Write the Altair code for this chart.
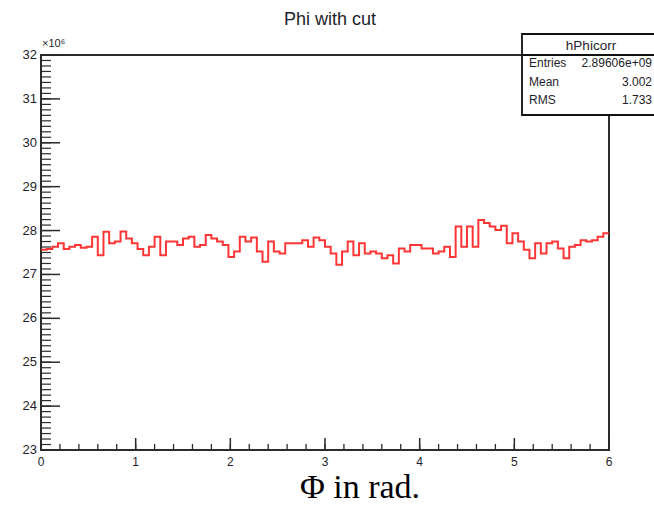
import altair as alt
import numpy as np
import pandas as pd

# Bin contents of hPhicorr in units of 10^6 entries (100 bins, 0 to 6 rad)
counts = [27.56, 27.58, 27.63, 27.71, 27.58, 27.63, 27.67, 27.61, 27.63, 27.86,
          27.44, 27.97, 27.71, 27.75, 27.98, 27.82, 27.71, 27.58, 27.44, 27.63,
          27.86, 27.44, 27.75, 27.75, 27.67, 27.82, 27.86, 27.63, 27.67, 27.90,
          27.82, 27.75, 27.67, 27.40, 27.52, 27.86, 27.75, 27.84, 27.52, 27.29,
          27.75, 27.52, 27.48, 27.71, 27.71, 27.71, 27.78, 27.63, 27.84, 27.78,
          27.63, 27.48, 27.22, 27.52, 27.75, 27.44, 27.71, 27.48, 27.52, 27.48,
          27.37, 27.44, 27.25, 27.59, 27.52, 27.67, 27.67, 27.59, 27.59, 27.48,
          27.52, 27.63, 27.40, 28.09, 27.63, 28.09, 27.63, 28.24, 28.17, 28.09,
          28.01, 28.11, 27.71, 27.94, 27.75, 27.56, 27.37, 27.71, 27.48, 27.71,
          27.75, 27.59, 27.37, 27.63, 27.67, 27.78, 27.75, 27.78, 27.86, 27.94]
x_range = [0, 6]
y_range = [23, 32]
x_labels = [0, 1, 2, 3, 4, 5, 6]
y_labels = [23, 24, 25, 26, 27, 28, 29, 30, 31, 32]
stat_names = ["Entries", "Mean", "RMS"]
stat_values = ["2.89606e+09", "3.002", "1.733"]
hist_name = "hPhicorr"
title_text = "Phi with cut"
x_title = "\u03a6 in rad."

W, H = 568, 395
FRAME = "#2b2b2b"
TXT = "#1e1e2a"
SANS = "Liberation Sans"

edges = np.linspace(x_range[0], x_range[1], len(counts) + 1)
hist = pd.DataFrame({"phi": edges, "n": counts + [counts[-1]]})

xs = alt.Scale(domain=x_range, nice=False, zero=False)
ys = alt.Scale(domain=y_range, nice=False, zero=False)

line = alt.Chart(hist).mark_line(
    interpolate="step-after", color="#ff1f1f", strokeWidth=2, opacity=0.9
).encode(
    x=alt.X("phi:Q", scale=xs, axis=None),
    y=alt.Y("n:Q", scale=ys, axis=None),
)

# ROOT-style ticks drawn inside the frame
y_major = pd.DataFrame({"v": y_labels})
y_minor = pd.DataFrame({"v": [23 + 0.125 * i for i in range(73)]})
x_major = pd.DataFrame({"v": x_labels})
x_minor = pd.DataFrame({"v": [round(0.2 * i, 2) for i in range(31)]})

ytick_major = alt.Chart(y_major).mark_rule(color=FRAME, strokeWidth=1.5).encode(
    y=alt.Y("v:Q", scale=ys, axis=None), x=alt.value(0), x2=alt.value(19))
ytick_minor = alt.Chart(y_minor).mark_rule(color=FRAME, strokeWidth=1.2).encode(
    y=alt.Y("v:Q", scale=ys, axis=None), x=alt.value(0), x2=alt.value(10))
xtick_major = alt.Chart(x_major).mark_rule(color=FRAME, strokeWidth=1.5).encode(
    x=alt.X("v:Q", scale=xs, axis=None), y=alt.value(H), y2=alt.value(H - 12))
xtick_minor = alt.Chart(x_minor).mark_rule(color=FRAME, strokeWidth=1.3).encode(
    x=alt.X("v:Q", scale=xs, axis=None), y=alt.value(H), y2=alt.value(H - 6))

# tick labels
ylab = alt.Chart(y_major).mark_text(
    font=SANS, fontSize=13, color=TXT, align="right", baseline="middle"
).encode(y=alt.Y("v:Q", scale=ys, axis=None), x=alt.value(-4), text="v:Q")
xlab = alt.Chart(x_major).mark_text(
    font=SANS, fontSize=12, color=TXT, align="center", baseline="middle"
).encode(x=alt.X("v:Q", scale=xs, axis=None), y=alt.value(H + 12), text="v:Q")

one = pd.DataFrame({"k": [0]})

title = alt.Chart(one).mark_text(
    text=title_text, font=SANS, fontSize=18, color=TXT, baseline="middle"
).encode(x=alt.value(289), y=alt.value(-35))

exponent = alt.Chart(one).mark_text(
    text="\u00d710\u2076", font=SANS, fontSize=11, color=TXT, align="left",
    baseline="alphabetic"
).encode(x=alt.value(1), y=alt.value(-8))

xlabel = alt.Chart(one).mark_text(
    text=x_title, font="Liberation Serif", fontSize=34, color="#000",
    baseline="alphabetic"
).encode(x=alt.value(319), y=alt.value(443))

# statistics box
box = alt.Chart(one).mark_rect(fill="white", stroke="#111", strokeWidth=1.8).encode(
    x=alt.value(481), x2=alt.value(625), y=alt.value(-21), y2=alt.value(60))
sep = alt.Chart(one).mark_rule(color="#111", strokeWidth=1.8).encode(
    x=alt.value(481), x2=alt.value(625), y=alt.value(0))
header = alt.Chart(one).mark_text(
    text=hist_name, font=SANS, fontSize=13.5, color=TXT, baseline="middle"
).encode(x=alt.value(550), y=alt.value(-9))

stats = pd.DataFrame({"name": stat_names, "val": stat_values, "row": [0, 1, 2]})
row_y = alt.Y("row:Q", scale=alt.Scale(domain=[0, 2], range=[8, 45]), axis=None)
stat_names_l = alt.Chart(stats).mark_text(
    font=SANS, fontSize=12, color=TXT, align="left", baseline="middle"
).encode(text="name:N", x=alt.value(488), y=row_y)
stat_vals_l = alt.Chart(stats).mark_text(
    font=SANS, fontSize=12, color=TXT, align="right", baseline="middle"
).encode(text="val:N", x=alt.value(611), y=row_y)

chart = alt.layer(
    line, ytick_minor, ytick_major, xtick_minor, xtick_major, ylab, xlab,
    title, exponent, xlabel, box, sep, header, stat_names_l, stat_vals_l
).resolve_scale(y="independent").properties(
    width=W, height=H,
    autosize=alt.AutoSizeParams(type="none"),
    padding={"left": 41, "top": 55, "right": 45, "bottom": 56},
    background="white",
).configure_view(stroke=FRAME, strokeWidth=2)

chart.save("out.html", embed_options={"renderer": "svg", "actions": False})
